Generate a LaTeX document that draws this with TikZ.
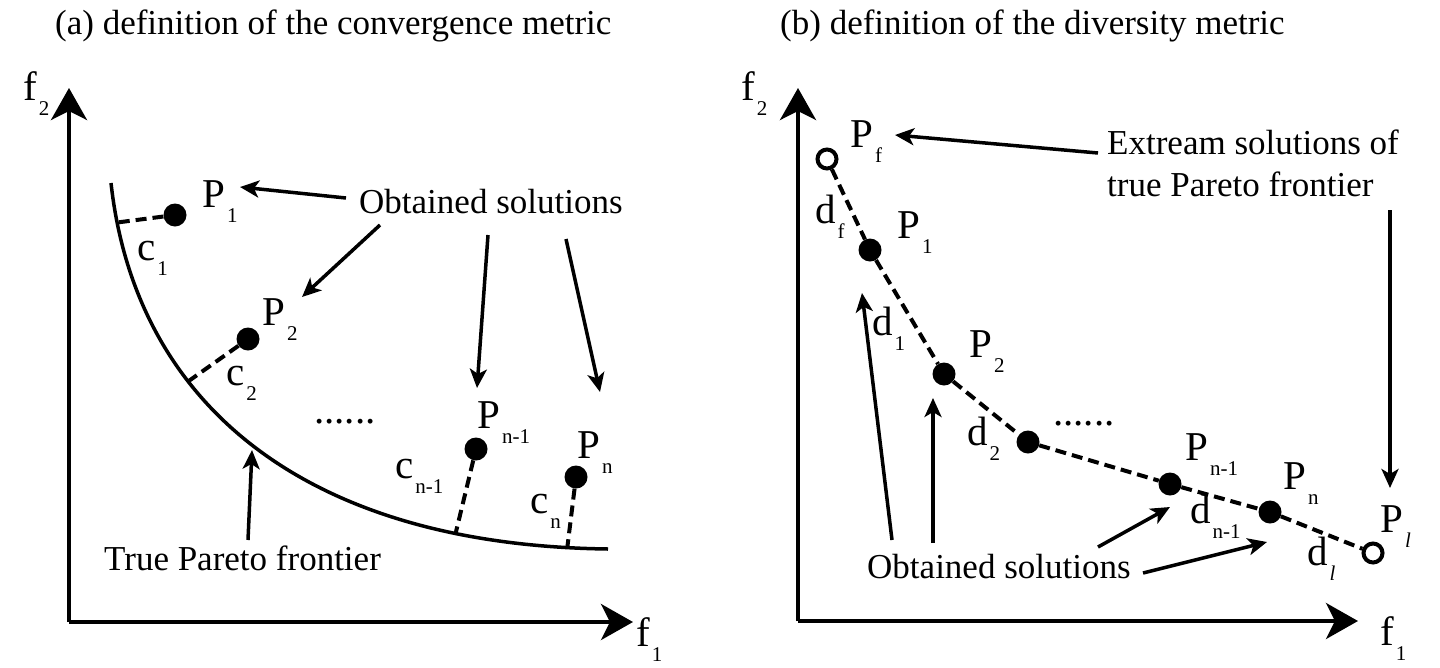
\documentclass[tikz,border=0pt]{standalone}
\usepackage{fontspec}
\setmainfont{Liberation Serif}
\usetikzlibrary{arrows.meta}

\newcommand{\lsub}[1]{\kern2pt\raisebox{-15pt}{\fontsize{21}{24}\selectfont #1}}

\tikzset{
  axis/.style={line width=4pt,-{Stealth[length=32pt,width=36pt,inset=9pt]}},
  ptr/.style={line width=3.5pt,-{Stealth[length=19pt,width=17pt,inset=5pt]}},
  dist/.style={line width=4pt,dash pattern=on 11pt off 6pt},
  front/.style={line width=3.5pt},
  sol/.style={circle,fill=black,minimum size=23pt,inner sep=0pt},
  ext/.style={circle,draw,line width=4pt,fill=white,minimum size=19pt,inner sep=0pt},
  lbl/.style={anchor=base west,inner sep=0pt,font=\fontsize{41}{48}\selectfont},
  txt/.style={anchor=base west,inner sep=0pt,font=\fontsize{35}{42}\selectfont},
}

\begin{document}
\begin{tikzpicture}[x=1pt,y=-1pt]
\useasboundingbox (0,0) rectangle (1440,667);

% (a) convergence metric
\node[txt] (capA) at (55,34) {(a) definition of the convergence metric};
\coordinate (oA) at (69,622);
\coordinate (yA) at (69,88);
\coordinate (xA) at (633,622);
\draw[axis] (oA) -- (yA);
\draw[axis] (oA) -- (xA);
\node[lbl] (f2A) at (23,100) {f\lsub{2}};
\node[lbl] (f1A) at (636,646) {f\lsub{1}};

\draw[front] (111,183) .. controls (135,400) and (300,545) .. (608,549)
  coordinate[pos=0.062] (ft1) coordinate[pos=0.35] (ft2)
  coordinate[pos=0.82] (ftn1) coordinate[pos=0.955] (ftn);

\node[sol] (a1) at (175,215) {};
\node[sol] (a2) at (248,339) {};
\node[sol] (an1) at (476,449) {};
\node[sol] (an) at (576,477) {};
\draw[dist] (a1) -- (ft1);
\draw[dist] (a2) -- (ft2);
\draw[dist] (an1) -- (ftn1);
\draw[dist] (an) -- (ftn);

\node[lbl] (la1) at (202,207) {P\lsub{1}};
\node[lbl] (la2) at (262,325) {P\lsub{2}};
\node[lbl] (lan1) at (477,428) {P\lsub{n-1}};
\node[lbl] (lan) at (577,458) {P\lsub{n}};
\node[lbl] (c1) at (137,260) {c\lsub{1}};
\node[lbl] (c2) at (226,385) {c\lsub{2}};
\node[lbl] (cn1) at (395,478) {c\lsub{n-1}};
\node[lbl] (cn) at (530,513) {c\lsub{n}};
\node[lbl] (dotsA) at (314,423) {......};

\node[txt] (obtA) at (359,213) {Obtained solutions};
\node[txt] (trueA) at (104,570) {True Pareto frontier};
\coordinate (s1) at (346,198); \coordinate (t1) at (240,187);
\coordinate (s2) at (380,225); \coordinate (t2) at (302,297);
\coordinate (s3) at (488,235); \coordinate (t3) at (477,388);
\coordinate (s4) at (566,239); \coordinate (t4) at (600,392);
\coordinate (s5) at (248,540); \coordinate (t5) at (252,450);
\draw[ptr] (s1) -- (t1);
\draw[ptr] (s2) -- (t2);
\draw[ptr] (s3) -- (t3);
\draw[ptr] (s4) -- (t4);
\draw[ptr] (s5) -- (t5);

% (b) diversity metric
\node[txt] (capB) at (780,34) {(b) definition of the diversity metric};
\coordinate (oB) at (798,621);
\coordinate (yB) at (798,88);
\coordinate (xB) at (1358,621);
\draw[axis] (oB) -- (yB);
\draw[axis] (oB) -- (xB);
\node[lbl] (f2B) at (741,100) {f\lsub{2}};
\node[lbl] (f1B) at (1380,645) {f\lsub{1}};

\node[ext] (pf) at (827,159) {};
\node[sol] (b1) at (870,250) {};
\node[sol] (b2) at (944,374) {};
\node[sol] (b3) at (1028,442) {};
\node[sol] (bn1) at (1170,484) {};
\node[sol] (bn) at (1270,512) {};
\node[ext] (pl) at (1373,553) {};
\draw[dist] (pf) -- (b1) -- (b2) -- (b3) -- (bn1) -- (bn) -- (pl);

\node[lbl] (lpf) at (850,147) {P\lsub{f}};
\node[lbl] (lb1) at (897,238) {P\lsub{1}};
\node[lbl] (lb2) at (969,357) {P\lsub{2}};
\node[lbl] (lbn1) at (1185,460) {P\lsub{n-1}};
\node[lbl] (lbn) at (1283,489) {P\lsub{n}};
\node[lbl] (lpl) at (1380,532) {P\lsub{\textit{l}}};
\node[lbl] (df) at (815,223) {d\lsub{f}};
\node[lbl] (d1) at (872,335) {d\lsub{1}};
\node[lbl] (d2) at (967,445) {d\lsub{2}};
\node[lbl] (dn1) at (1190,523) {d\lsub{n-1}};
\node[lbl] (dl) at (1307,565) {d\lsub{\textit{l}}};
\node[lbl] (dotsB) at (1053,425) {......};

\node[txt,align=left,anchor=north west] (extB) at (1107,130)
  {Extream solutions of\\true Pareto frontier};
\node[txt] (obtB) at (867,578) {Obtained solutions};
\coordinate (s6) at (1098,153); \coordinate (t6) at (895,135);
\coordinate (s7) at (1390,210); \coordinate (t7) at (1390,488);
\coordinate (s8) at (892,540); \coordinate (t8) at (862,293);
\coordinate (s9) at (933,543); \coordinate (t9) at (933,398);
\coordinate (s10) at (1098,547); \coordinate (t10) at (1170,507);
\coordinate (s11) at (1143,573); \coordinate (t11) at (1267,542);
\draw[ptr] (s6) -- (t6);
\draw[ptr] (s7) -- (t7);
\draw[ptr] (s8) -- (t8);
\draw[ptr] (s9) -- (t9);
\draw[ptr] (s10) -- (t10);
\draw[ptr] (s11) -- (t11);
\end{tikzpicture}
\end{document}
